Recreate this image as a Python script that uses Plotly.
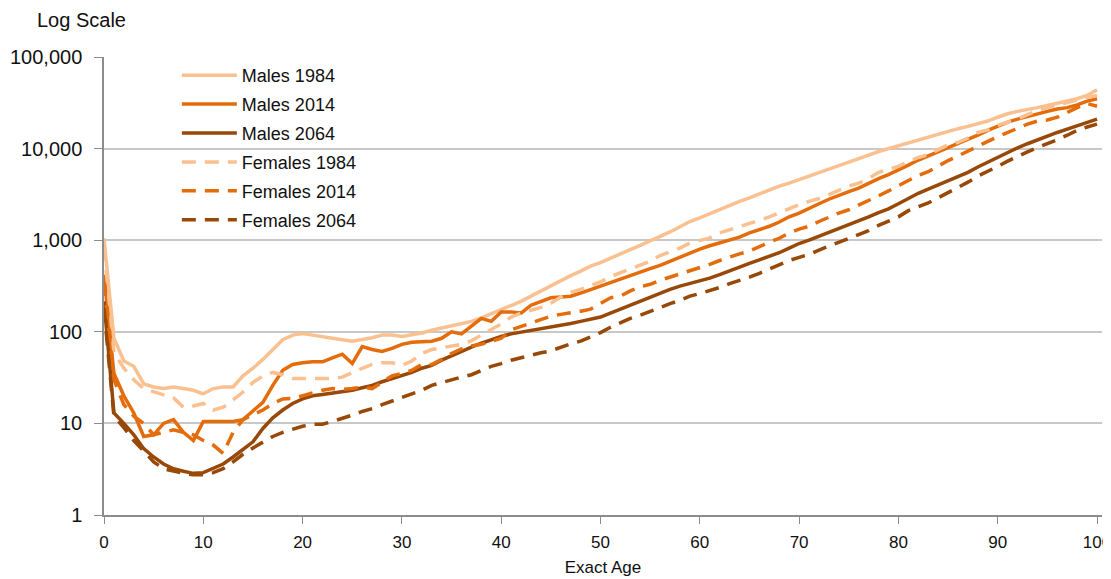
import plotly.graph_objects as go

ages = list(range(0, 101))

males_1984 = [1050, 85, 48, 42, 27, 25, 24, 25, 24, 23, 21, 24, 25, 25, 33, 40, 50, 65, 82, 92,
              96, 92, 88, 85, 82, 79, 82, 86, 92, 92, 89, 92, 97, 104, 110, 115, 121, 130, 142, 158,
              175, 192, 215, 245, 280, 320, 360, 410, 460, 520, 570, 640, 710, 790, 880, 980, 1080, 1230, 1400, 1600,
              1750, 1950, 2150, 2400, 2650, 2900, 3200, 3500, 3900, 4200, 4600, 5000, 5500, 6000, 6600, 7200, 7800, 8500, 9300, 10000,
              10800, 11700, 12500, 13400, 14300, 15300, 16500, 17500, 18700, 20000, 22000, 24000, 25500, 27000, 28000, 29500, 31000, 33000, 35000, 38000,
              44000]

males_2014 = [420, 35, 20, 13, 7.2, 7.5, 10, 11, 8, 6.5, 10.5, 10.5, 10.5, 10.5, 11, 13.5, 17, 26, 38, 44,
              46, 47, 47, 52, 57, 45, 69, 64, 61, 66, 73, 77, 78, 79, 85, 100, 95, 115, 140, 130,
              165, 165, 160, 195, 215, 235, 240, 245, 265, 290, 315, 340, 375, 415, 450, 490, 530, 590, 660, 730,
              800, 870, 940, 1000, 1080, 1200, 1300, 1420, 1580, 1800, 1980, 2200, 2500, 2800, 3100, 3400, 3700, 4200, 4700, 5200,
              5800, 6600, 7500, 8300, 9200, 10300, 11500, 12500, 14000, 15800, 17500, 19500, 21000, 22500, 24000, 25500, 27000, 28000, 30000, 33000,
              35000]

males_2064 = [215, 13, 10, 7.5, 5.3, 4.3, 3.6, 3.2, 3.0, 2.85, 2.9, 3.2, 3.6, 4.3, 5.2, 6.3, 8.8, 11.5, 14, 16.5,
              18.5, 20, 20.7, 21.5, 22.4, 23, 24.5, 26, 28.5, 31, 33, 36, 40, 43, 49, 55, 62, 68, 75, 82,
              89, 95, 99, 103, 108, 114, 119, 123, 130, 137, 145, 160, 177, 195, 215, 235, 260, 290, 315, 335,
              355, 385, 420, 465, 510, 560, 610, 660, 730, 820, 920, 1000, 1100, 1220, 1350, 1480, 1630, 1800, 2000, 2200,
              2500, 2850, 3250, 3600, 4000, 4450, 4900, 5500, 6300, 7100, 8100, 9100, 10200, 11300, 12500, 13700, 15000, 16300, 17800, 19500,
              21000]

females_1984 = [850, 60, 40, 30, 24, 22, 20.5, 19, 15, 15.5, 16.5, 14, 15, 18, 22, 28, 33, 36, 34, 31,
                31, 31, 31, 31, 32, 36, 40, 44, 46, 46, 43, 48, 58, 64, 67, 70, 73, 80, 92, 105,
                122, 145, 160, 172, 185, 205, 240, 270, 290, 320, 350, 400, 440, 490, 540, 590, 680, 740, 820, 930,
                1000, 1060, 1200, 1300, 1380, 1500, 1650, 1800, 2000, 2250, 2450, 2650, 2850, 3150, 3500, 3900, 4200, 4700, 5500, 6000,
                6400, 7200, 8000, 8600, 9800, 11000, 11700, 13000, 15000, 16000, 18000, 19500, 21000, 23500, 26000, 28000, 30000, 32000, 34000, 36000,
                38000]

females_2014 = [350, 30, 16, 12, 10, 7.5, 8, 8.5, 8, 7.5, 6.5, 5.8, 4.7, 8, 11, 12.5, 14, 16.5, 18.5, 18.7,
                20, 21.5, 23, 24, 23.5, 24, 25, 24, 28, 33, 35, 38, 44, 44, 50, 58, 65, 70, 73, 78,
                85, 105, 115, 125, 137, 148, 155, 160, 168, 177, 205, 235, 245, 280, 310, 330, 365, 395, 430, 470,
                510, 545, 600, 660, 710, 760, 860, 950, 1050, 1200, 1320, 1420, 1600, 1800, 1980, 2150, 2400, 2700, 3050, 3450,
                3900, 4500, 5100, 5600, 6500, 7400, 8300, 9400, 10800, 12000, 13500, 15000, 16500, 18500, 20000, 20500, 22000, 25000, 28000, 31000,
                29000]

females_2064 = [180, 12, 9, 6.5, 5, 3.8, 3.2, 3.0, 2.85, 2.75, 2.75, 2.9, 3.2, 3.8, 4.6, 5.4, 6.2, 7.2, 8, 8.7,
                9.3, 9.8, 9.8, 10.5, 11.3, 12.3, 13.5, 14.5, 16, 17.5, 19.5, 21, 23, 26, 28, 30, 32, 34, 38, 42,
                45, 49, 52, 56, 59, 62, 68, 74, 79, 88, 98, 112, 125, 140, 152, 168, 188, 203, 220, 245,
                262, 280, 305, 335, 360, 395, 435, 485, 540, 600, 650, 700, 780, 860, 950, 1050, 1150, 1270, 1450, 1620,
                1800, 2100, 2300, 2550, 2900, 3300, 3700, 4300, 5000, 5600, 6400, 7300, 8100, 9200, 10300, 11300, 12500, 14000, 15800, 17200,
                18500]

series_names = ["Males 1984", "Males 2014", "Males 2064", "Females 1984", "Females 2014", "Females 2064"]
series_values = [males_1984, males_2014, males_2064, females_1984, females_2014, females_2064]
series_colors = ["#FAC090", "#E46C0A", "#984807", "#FAC090", "#E46C0A", "#984807"]
series_dash = ["solid", "solid", "solid", "14px,9px", "14px,9px", "14px,9px"]

y_tickvals = [1, 10, 100, 1000, 10000, 100000]
y_ticktext = ["1", "10", "100", "1,000", "10,000", "100,000"]
x_tickvals = list(range(0, 101, 10))

fig = go.Figure()
for name, vals, col, dash in zip(series_names, series_values, series_colors, series_dash):
    fig.add_trace(go.Scatter(x=ages, y=vals, mode="lines", name=name, legendgroup=name,
                             line=dict(color=col, width=3.5, dash=dash)))

font_main = "Liberation Sans, Arial, sans-serif"
# the page body adds an 8px offset, so the figure is sized 8px smaller than the window
fig.update_layout(
    width=1103, height=571,
    margin=dict(l=96, r=9, t=49, b=64, autoexpand=False),
    paper_bgcolor="white", plot_bgcolor="white",
    font=dict(family=font_main, size=18, color="#111111"),
    showlegend=True,
    legend=dict(x=0.073, y=1.0, xanchor="left", yanchor="top",
                bgcolor="rgba(0,0,0,0)", font=dict(size=18, color="#111111"),
                tracegroupgap=2.5, itemwidth=55),
    xaxis=dict(range=[0, 100.5], tickvals=x_tickvals, showgrid=False,
               showline=True, linecolor="#8c8c8c", linewidth=1.5,
               ticks="outside", ticklen=7, tickcolor="#8c8c8c",
               automargin=False, ticklabelstandoff=4, ticklabeloverflow="allow",
               tickfont=dict(size=17),
               title=dict(text="Exact Age", standoff=10, font=dict(size=17)),
               zeroline=False),
    yaxis=dict(type="log", range=[0, 5], tickvals=y_tickvals, ticktext=y_ticktext,
               showgrid=True, gridcolor="#c8c8c8", gridwidth=1.5,
               showline=True, linecolor="#8c8c8c", linewidth=1.5,
               ticks="outside", ticklen=8, tickcolor="#8c8c8c",
               automargin=False, ticklabelstandoff=8,
               tickfont=dict(size=20), zeroline=False),
    annotations=[dict(text="Log Scale", xref="paper", yref="paper",
                      x=-0.069, y=1.0, xanchor="left", yanchor="middle",
                      yshift=37, showarrow=False, font=dict(size=20, color="#111111"))],
)

fig.write_html("out.html")
